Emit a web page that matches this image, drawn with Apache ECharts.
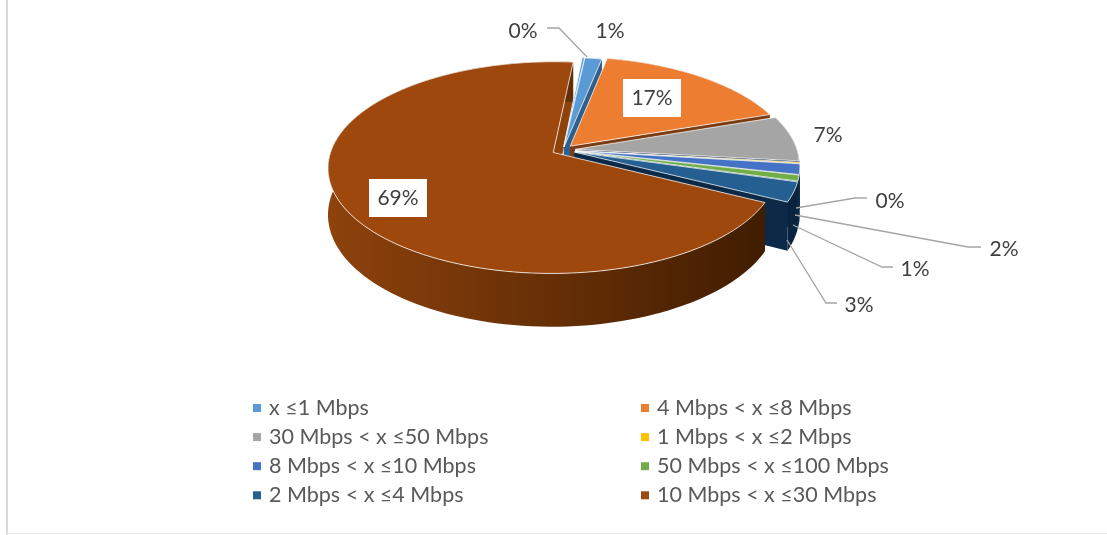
<!DOCTYPE html>
<html><head><meta charset="utf-8">
<style>html,body{margin:0;padding:0;background:#fff}#c{width:1107px;height:535px}</style>
<script src="https://cdn.jsdelivr.net/npm/echarts@6/dist/echarts.min.js"></script></head>
<body><div id="c"></div>
<script>
const categories=["(no legend entry)","x ≤1 Mbps","4 Mbps < x ≤8 Mbps","30 Mbps < x ≤50 Mbps","1 Mbps < x ≤2 Mbps","8 Mbps < x ≤10 Mbps","50 Mbps < x ≤100 Mbps","2 Mbps < x ≤4 Mbps","10 Mbps < x ≤30 Mbps"];
const shares=[0.2,1.4,16.6,7.0,0.2,1.6,0.9,3.0,69.0];
const colors=["#5B9BD5","#5B9BD5","#ED7D31","#A5A5A5","#FFC000","#4472C4","#70AD47","#255E91","#9E480E"];
const wallColors=[["#2f5f8a","#2f5f8a"],["#2f5f8a","#2f5f8a"],["#7a3c12","#7a3c12"],["#0c2a48","#0c2a48"],["#0c2a48","#0c2a48"],["#0c2a48","#0c2a48"],["#0c2a48","#0c2a48"],["#0c2a48","#0a2440"],["#8e420c","#3a1a00"]];
const legendLeft=[1,3,5,7], legendRight=[2,4,6,8];
const labelAt=[[523,31],[610,31],[652,98],[828,135],[890,201],[1004,249],[915,269],[859,305],[398,198]];
const boxed=[false,false,true,false,false,false,false,false,true];
const leaders=[[[547,28],[559,28],[587,57]],null,null,null,[[867,198],[855,198],[796,208]],[[981,247],[968,247],[795,215]],[[893,267],[882,267],[793,225]],[[837,303],[826,303],[787,240]],null];
const explode=[.03,.03,.05,.055,.055,.055,.055,.055,.05];
const P={ox:563,oy:150,R:222,Ry:103,k:.142,h:45.5,start:5.5};
const FONT='Lato, Carlito, sans-serif';

const total=shares.reduce((a,b)=>a+b,0);
const spans=[];let acc=P.start;
shares.forEach(s=>{const d=s/total*360;spans.push([acc,acc+d]);acc+=d;});
function proj(u,v,down){const w=1+P.k*v;return [P.ox+P.R*u/w,P.oy-P.Ry*v/w+(down?P.h/w:0)];}
function geom(i){
  const [a,b]=spans[i],m=(a+b)/2*Math.PI/180,e=explode[i];
  const cu=e*Math.sin(m),cv=e*Math.cos(m),arc=[];
  const n=Math.max(2,Math.ceil((b-a)/2));
  for(let j=0;j<=n;j++){const t=(a+(b-a)*j/n)*Math.PI/180;arc.push([cu+Math.sin(t),cv+Math.cos(t)]);}
  return {c:[cu,cv],arc};
}
function wallItem(params,api){
  const i=api.value(0),g=geom(i),kids=[];
  const grad=new echarts.graphic.LinearGradient(328,0,800,0,[{offset:0,color:wallColors[i][0]},{offset:1,color:wallColors[i][1]}],true);
  const last=g.arc[g.arc.length-1];
  kids.push({type:'polygon',shape:{points:[proj(g.c[0],g.c[1]),proj(last[0],last[1]),proj(last[0],last[1],1),proj(g.c[0],g.c[1],1)]},style:{fill:wallColors[i][0]}});
  const top=g.arc.map(p=>proj(p[0],p[1])),bot=g.arc.map(p=>proj(p[0],p[1],1)).reverse();
  kids.push({type:'polygon',shape:{points:top.concat(bot)},style:{fill:grad}});
  return {type:'group',children:kids};
}
function topItem(i){return function(params,api){
  const g=geom(i);
  const pts=[proj(g.c[0],g.c[1])].concat(g.arc.map(p=>proj(p[0],p[1])));
  return {type:'polygon',shape:{points:pts},style:{fill:colors[i],stroke:'rgba(255,255,255,0.75)',lineWidth:1}};
};}
function labelItem(params,api){
  const i=api.value(0),kids=[],[x,y]=labelAt[i];
  if(boxed[i])kids.push({type:'rect',shape:{x:x-29,y:y-19,width:58,height:38},style:{fill:'#fff'}});
  if(leaders[i])kids.push({type:'polyline',shape:{points:leaders[i]},style:{fill:null,stroke:'#A5A5A5',lineWidth:1.3}});
  kids.push({type:'text',x:x,y:y,style:{text:Math.round(shares[i])+'%',fill:'#404040',font:'21px '+FONT,align:'center',verticalAlign:'middle'}});
  return {type:'group',children:kids};
}
const idx=shares.map((_,i)=>[i]);
const series=[{type:'custom',name:'walls',coordinateSystem:'none',z:1,silent:true,renderItem:wallItem,data:idx}];
shares.forEach((s,i)=>series.push({type:'custom',name:categories[i],coordinateSystem:'none',z:2,silent:true,itemStyle:{color:colors[i]},renderItem:topItem(i),data:[[s]]}));
series.push({type:'custom',name:'labels',coordinateSystem:'none',z:3,silent:true,renderItem:labelItem,data:idx});
const leg=(list,left)=>({orient:'vertical',left:left,top:397,padding:0,itemWidth:8,itemHeight:8,itemGap:7.1,icon:'rect',selectedMode:false,
  data:list.map(i=>categories[i]),textStyle:{fontFamily:FONT,fontSize:21.5,color:'#595959',lineHeight:20,padding:[0,0,0,3]}});
const chart=echarts.init(document.getElementById('c'),null,{renderer:'canvas'});
chart.setOption({animation:false,backgroundColor:'#fff',
  legend:[leg(legendLeft,253),leg(legendRight,641)],
  graphic:[{type:'rect',shape:{x:6,y:0,width:2,height:535},style:{fill:'#D9D9D9'},silent:true},
           {type:'rect',shape:{x:6,y:533,width:1101,height:1},style:{fill:'#EDEDED'},silent:true}],
  series});
</script></body></html>
